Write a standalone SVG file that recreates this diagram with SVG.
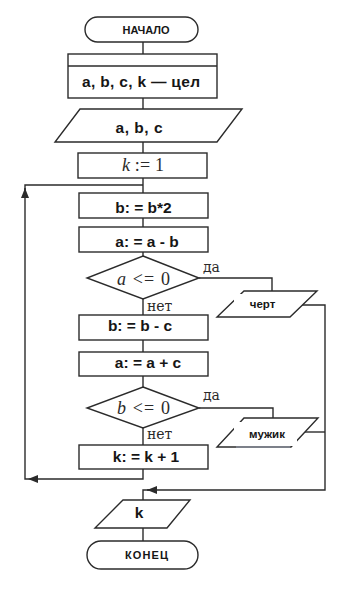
<svg xmlns="http://www.w3.org/2000/svg" width="358" height="609" viewBox="0 0 358 609">
<defs>
<style>
.s{fill:#fff;stroke:#2b2b2b;stroke-width:1.4}
.c{fill:none;stroke:#2b2b2b;stroke-width:1.4}
.t{font-family:"Liberation Sans",Arial,sans-serif;font-weight:bold;font-size:15.5px;fill:#161616;text-anchor:middle}
.h{font-family:"Liberation Sans",Arial,sans-serif;font-weight:bold;font-size:11px;fill:#161616;text-anchor:middle}
.o{font-family:"Liberation Sans",Arial,sans-serif;font-weight:bold;font-size:11.5px;fill:#161616;text-anchor:middle}
.m{font-family:"Liberation Serif","Times New Roman",serif;font-size:18px;fill:#2a2a2a;text-anchor:middle}
.l{font-family:"DejaVu Serif",serif;font-size:14px;fill:#2a2a2a}
.w{fill:#fff;stroke:none}
</style>
<marker id="arr" viewBox="0 0 10 8" refX="10" refY="4" markerWidth="10" markerHeight="8" markerUnits="userSpaceOnUse" orient="auto">
<path d="M0,0 L10,4 L0,8 z" fill="#2b2b2b"/>
</marker>
</defs>
<rect width="358" height="609" fill="#fff"/>

<g id="connectors">
<path class="c" d="M143,42 V54"/>
<path class="c" d="M143,98 V109"/>
<path class="c" d="M143,142 V153"/>
<path class="c" d="M143,178 V193"/>
<path class="c" d="M143,218 V227"/>
<path class="c" d="M143,252 V256"/>
<path class="c" d="M143,299 V315"/>
<path class="c" d="M143,340 V352"/>
<path class="c" d="M143,376 V387"/>
<path class="c" d="M143,428 V445"/>
<path class="c" d="M143,528 V541"/>
<path class="c" d="M143,469 V479 H28" marker-end="url(#arr)"/>
<path class="c" d="M28,479 H25 V188" marker-end="url(#arr)"/>
<path class="c" d="M25,190 V185 H143"/>
<path class="c" d="M199,278 H272 V291"/>
<path class="c" d="M199,408 H273 V418"/>
<path class="c" d="M302,305 H325 V490 H147" marker-end="url(#arr)"/>
<path class="c" d="M149,490 H143 V500"/>
<path class="c" d="M305,432 H325"/>
</g>

<g id="start">
<rect class="s" x="85" y="17" width="113" height="25" rx="12.5"/>
<text class="h" x="146" y="34" textLength="47">НАЧАЛО</text>
</g>
<g id="decl">
<rect class="s" x="68" y="54" width="149" height="44"/>
<line class="c" x1="68" y1="66" x2="217" y2="66"/>
<text class="t" x="141" y="87" textLength="118">a, b, c, k — цел</text>
</g>
<g id="input">
<polygon class="s" points="80,109 242,109 217,142 55,142"/>
<text class="t" x="139" y="133" textLength="47">a, b, c</text>
</g>
<g id="init">
<rect class="s" x="78" y="153" width="129" height="25"/>
<text class="m" x="143" y="171" textLength="42"><tspan font-style="italic">k</tspan> := 1</text>
</g>
<g id="b2">
<rect class="s" x="79" y="193" width="129" height="25"/>
<text class="t" x="143.5" y="213">b: = b*2</text>
</g>
<g id="amb">
<rect class="s" x="79" y="227" width="129" height="25"/>
<text class="t" x="147" y="247">a: = a - b</text>
</g>
<g id="cond1">
<polygon class="s" points="143,256 199,278 143,299 87,278"/>
<text class="m" x="143.5" y="285" textLength="53"><tspan font-style="italic">a</tspan> &lt;= 0</text>
<text class="l" x="203" y="272">да</text>
<text class="l" x="147" y="311">нет</text>
</g>
<g id="out1">
<polygon class="s" points="244,291 317,291 290,317 217,317"/>
<rect class="w" x="234" y="294" width="56" height="22"/>
<text class="o" x="262.5" y="308">черт</text>
</g>
<g id="bmc">
<rect class="s" x="79" y="315" width="129" height="25"/>
<text class="t" x="140" y="331">b: = b - c</text>
</g>
<g id="apc">
<rect class="s" x="79" y="352" width="129" height="24"/>
<text class="t" x="148" y="368">a: = a + c</text>
</g>
<g id="cond2">
<polygon class="s" points="143,387 199,408 143,428 87,408"/>
<text class="m" x="143.5" y="414" textLength="53"><tspan font-style="italic">b</tspan> &lt;= 0</text>
<text class="l" x="203" y="400">да</text>
<text class="l" x="147" y="439">нет</text>
</g>
<g id="out2">
<polygon class="s" points="244,418 318,418 291,447 217,447"/>
<rect class="w" x="234" y="422" width="63" height="24"/>
<line x1="236" y1="447" x2="290" y2="447" stroke="#9aa3b5" stroke-width="1"/>
<text class="o" x="267" y="438">мужик</text>
</g>
<g id="inc">
<rect class="s" x="79" y="445" width="129" height="24"/>
<text class="t" x="146" y="462">k: = k + 1</text>
</g>
<g id="output">
<polygon class="s" points="123,500 190,500 167,528 95,528"/>
<text class="t" x="139" y="518">k</text>
</g>
<g id="end">
<rect class="s" x="87" y="541" width="111" height="28" rx="14"/>
<text class="h" x="146.5" y="559" textLength="43">КОНЕЦ</text>
</g>
</svg>
